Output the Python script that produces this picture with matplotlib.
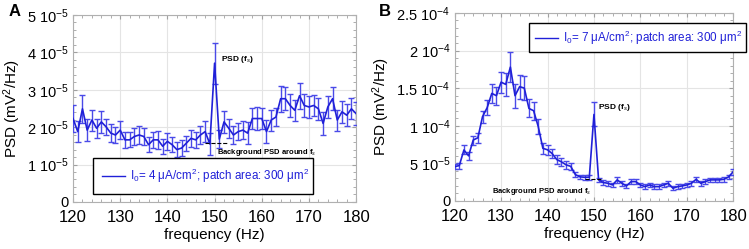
import numpy as np
import matplotlib
matplotlib.use('Agg')
import matplotlib.pyplot as plt
from matplotlib.ticker import MultipleLocator, FixedLocator
from matplotlib.lines import Line2D

plt.rcParams['font.family'] = ['Liberation Sans', 'DejaVu Sans']
plt.rcParams['mathtext.fontset'] = 'custom'
plt.rcParams['mathtext.rm'] = 'Liberation Sans'
plt.rcParams['mathtext.it'] = 'Liberation Sans:italic'
plt.rcParams['mathtext.bf'] = 'Liberation Sans:bold'

#=== Data (PSD in units of 1e-5 mV^2/Hz) ===#
freq = np.arange(120, 181)

psd_A = [2.23, 1.88, 2.49, 1.92, 2.19, 1.97, 2.14, 2.01, 1.84, 1.79,
         1.92, 1.66, 1.66, 1.75, 1.79, 1.75, 1.53, 1.66, 1.66, 1.49,
         1.62, 1.53, 1.40, 1.44, 1.57, 1.70, 1.66, 1.79, 1.88, 1.55,
         3.71, 1.68, 2.14, 1.97, 1.79, 1.88, 1.92, 1.84, 2.23, 2.23,
         2.23, 1.88, 2.19, 2.27, 2.76, 2.76, 2.58, 2.45, 2.84, 2.58,
         2.54, 2.58, 2.49, 2.10, 2.54, 2.76, 2.19, 2.41, 2.32, 2.49,
         2.36]
err_A = [0.35, 0.28, 0.38, 0.30, 0.28, 0.25, 0.30, 0.22, 0.25, 0.22,
         0.25, 0.22, 0.20, 0.22, 0.25, 0.22, 0.20, 0.22, 0.25, 0.20,
         0.22, 0.20, 0.20, 0.22, 0.20, 0.22, 0.22, 0.25, 0.28, 0.30,
         0.55, 0.25, 0.30, 0.25, 0.25, 0.22, 0.25, 0.30, 0.28, 0.30,
         0.28, 0.30, 0.28, 0.25, 0.35, 0.30, 0.30, 0.28, 0.35, 0.30,
         0.30, 0.28, 0.30, 0.30, 0.30, 0.30, 0.28, 0.30, 0.30, 0.28,
         0.30]

psd_B = [4.56, 4.70, 6.78, 6.00, 8.10, 8.40, 11.2, 12.4, 14.3, 14.0,
         15.8, 15.5, 17.8, 14.0, 15.2, 15.0, 12.3, 12.0, 9.90, 7.00,
         6.80, 6.30, 5.50, 5.20, 4.80, 4.60, 3.50, 3.20, 3.15, 3.15,
         11.5, 2.80, 2.45, 2.35, 2.13, 2.80, 2.35, 2.00, 2.57, 2.57,
         2.13, 1.90, 2.13, 1.90, 1.90, 2.13, 2.35, 1.69, 1.90, 2.00,
         2.13, 2.35, 2.88, 2.35, 2.57, 2.80, 2.80, 2.80, 2.88, 3.20,
         3.90]
err_B = [0.35, 0.40, 0.60, 0.55, 0.60, 0.70, 0.80, 1.00, 1.30, 1.20,
         1.40, 1.50, 2.00, 1.60, 1.60, 1.60, 1.20, 1.20, 1.00, 0.70,
         0.70, 0.60, 0.55, 0.50, 0.50, 0.50, 0.35, 0.30, 0.30, 0.30,
         1.60, 0.30, 0.30, 0.30, 0.30, 0.35, 0.30, 0.30, 0.30, 0.30,
         0.30, 0.30, 0.30, 0.30, 0.30, 0.30, 0.30, 0.30, 0.30, 0.30,
         0.30, 0.30, 0.35, 0.30, 0.30, 0.30, 0.30, 0.30, 0.30, 0.30,
         0.40]

bg_A = 1.58
bg_B = 2.88

ticks_A = [0, 1, 2, 3, 4, 5]
labels_A = ['0', '1 10$^{-5}$', '2 10$^{-5}$', '3 10$^{-5}$', '4 10$^{-5}$', '5 10$^{-5}$']
ticks_B = [0, 5, 10, 15, 20, 25]
labels_B = ['0', '5 10$^{-5}$', '1 10$^{-4}$', '1.5 10$^{-4}$', '2 10$^{-4}$', '2.5 10$^{-4}$']

blue = '#2020d8'
ebar = '#4a4ae8'

fig = plt.figure(figsize=(7.49, 2.49), dpi=100)
axA = fig.add_axes([0.0975, 0.189, 0.378, 0.751])
axB = fig.add_axes([0.607, 0.193, 0.372, 0.755])


def style_axes(ax, yticks, ylabels, ymax, yminor):
    ax.set_xlim(120, 180)
    ax.set_ylim(0, ymax)
    ax.set_xticks([120, 130, 140, 150, 160, 170, 180])
    ax.xaxis.set_minor_locator(MultipleLocator(2))
    ax.yaxis.set_major_locator(FixedLocator(yticks))
    ax.set_yticklabels(ylabels)
    ax.yaxis.set_minor_locator(MultipleLocator(yminor))
    ax.grid(True, which='major', color='#e4e4e4', linewidth=0.8)
    ax.set_axisbelow(True)
    for s in ax.spines.values():
        s.set_color('#b0b0b0')
        s.set_linewidth(0.8)
    ax.tick_params(which='both', direction='in', colors='#a0a0a0',
                   top=True, right=True, labelcolor='black')
    ax.tick_params(axis='x', labelsize=12, pad=6)
    ax.tick_params(axis='y', labelsize=10.5, pad=3)
    ax.tick_params(which='major', length=3)
    ax.tick_params(which='minor', length=2)
    ax.set_xlabel('frequency (Hz)', fontsize=11, labelpad=2)
    ax.set_ylabel('PSD (mV$^2$/Hz)', fontsize=11, labelpad=3)


#=== Panel A ===#
axA.errorbar(freq, psd_A, yerr=err_A, color=blue, ecolor=ebar, lw=1.2,
             elinewidth=1.0, capsize=2, capthick=1.0, zorder=3)
axA.plot([148, 152.6], [bg_A, bg_A], ls='--', color='black', lw=0.8, zorder=4)
axA.text(151.4, 3.82, 'PSD (f$_s$)', fontsize=6, fontweight='bold', va='center')
axA.text(150.5, 1.31, 'Background PSD around f$_s$', fontsize=5.5,
         fontweight='bold', va='center')
style_axes(axA, ticks_A, labels_A, 5, 0.2)
hA = Line2D([], [], color=blue, lw=1.0)
legA = axA.legend([hA], ['I$_0$= 4 \u03bcA/cm$^2$; patch area: 300 \u03bcm$^2$'],
                  loc='lower left', bbox_to_anchor=(0.07, 0.043, 0.777, 0.187),
                  mode='expand', fontsize=8.4, frameon=True, fancybox=False,
                  edgecolor='black', framealpha=1, handlelength=2.0,
                  handletextpad=0.45, borderaxespad=0, labelcolor=blue,
                  borderpad=0.75)
legA.get_frame().set_linewidth(1.0)

#=== Panel B ===#
axB.errorbar(freq, psd_B, yerr=err_B, color=blue, ecolor=ebar, lw=1.2,
             elinewidth=1.0, capsize=2, capthick=1.0, zorder=3)
axB.plot([148, 151.5], [bg_B, bg_B], ls='--', color='black', lw=0.8, zorder=4)
axB.text(150.9, 12.4, 'PSD (f$_s$)', fontsize=6, fontweight='bold', va='center')
axB.text(128.0, 1.2, 'Background PSD around f$_s$', fontsize=5.5,
         fontweight='bold', va='center')
style_axes(axB, ticks_B, labels_B, 25, 1)
hB = Line2D([], [], color=blue, lw=1.0)
legB = axB.legend([hB], ['I$_0$= 7 \u03bcA/cm$^2$; patch area: 300 \u03bcm$^2$'],
                  loc='lower left', bbox_to_anchor=(0.266, 0.79, 0.781, 0.162),
                  mode='expand', fontsize=8.4, frameon=True, fancybox=False,
                  edgecolor='black', framealpha=1, handlelength=2.0,
                  handletextpad=0.45, borderaxespad=0, labelcolor=blue,
                  borderpad=0.5)
legB.get_frame().set_linewidth(1.0)

#=== Panel letters ===#
fig.text(0.012, 0.955, 'A', fontsize=12, fontweight='bold', va='center')
fig.text(0.506, 0.955, 'B', fontsize=12, fontweight='bold', va='center')

fig.savefig('out.png', dpi=100)
